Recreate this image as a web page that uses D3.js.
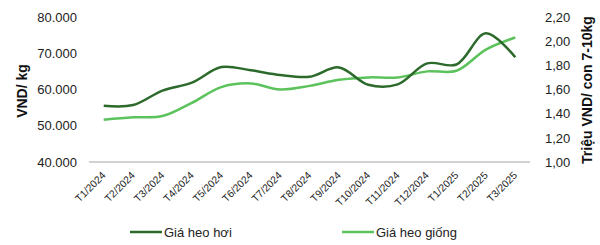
<!DOCTYPE html>
<html><head><meta charset="utf-8">
<script src="https://cdn.jsdelivr.net/npm/d3@7"></script>
<style>body{margin:0;background:#fff}svg{display:block;font-family:"Liberation Sans",Arial,sans-serif}</style>
</head><body><svg id="c" width="600" height="245"></svg>
<script>
const categories = ["T1/2024","T2/2024","T3/2024","T4/2024","T5/2024","T6/2024","T7/2024","T8/2024","T9/2024","T10/2024","T11/2024","T12/2024","T1/2025","T2/2025","T3/2025"];
const heoHoi = [55500, 55700, 59700, 61900, 66200, 65300, 64000, 63500, 66100, 61300, 61400, 67200, 66900, 75500, 68900];
const heoGiong = [1.35, 1.37, 1.38, 1.49, 1.62, 1.65, 1.60, 1.63, 1.68, 1.70, 1.70, 1.75, 1.755, 1.93, 2.03];
const leftTicks = [40000, 50000, 60000, 70000, 80000];
const rightTicks = [1.0, 1.2, 1.4, 1.6, 1.8, 2.0, 2.2];
const seriesNames = ["Giá heo hơi", "Giá heo giống"];
const colors = ["#2c6a2c", "#5cc35c"];

const svg = d3.select("#c");
const x = d3.scaleBand().domain(categories).range([89, 530]);
const yL = d3.scaleLinear().domain([40000, 80000]).range([162, 17]);
const yR = d3.scaleLinear().domain([1.0, 2.2]).range([162, 17]);
const fmtL = d => d3.format(",")(d).replace(/,/g, ".");
const fmtR = d => d.toFixed(2).replace(".", ",");

// left axis labels
const gl = svg.append("g").attr("transform","translate(77,0)")
  .call(d3.axisLeft(yL).tickValues(leftTicks).tickFormat(fmtL).tickSize(0).tickPadding(0));
gl.select(".domain").remove();
gl.selectAll("text").attr("font-size",13).attr("fill","#222").attr("font-family","Liberation Sans, Arial, sans-serif");

const gr = svg.append("g").attr("transform","translate(545,0)")
  .call(d3.axisRight(yR).tickValues(rightTicks).tickFormat(fmtR).tickSize(0).tickPadding(0));
gr.select(".domain").remove();
gr.selectAll("text").attr("font-size",13).attr("fill","#222").attr("font-family","Liberation Sans, Arial, sans-serif");

// x axis line
svg.append("line").attr("x1",89).attr("x2",530).attr("y1",162).attr("y2",162)
  .attr("stroke","#a6a6a6").attr("stroke-width",1);

// x labels
svg.append("g").selectAll("text").data(categories).join("text")
  .attr("transform", d => `translate(${x(d)+x.bandwidth()/2},${173.5}) rotate(-45)`)
  .attr("text-anchor","end").attr("dy","0.35em")
  .attr("font-size",10.3).attr("fill","#222").text(d => d);

// axis titles
svg.append("text").attr("transform","translate(27,91) rotate(-90)")
  .attr("text-anchor","middle").attr("font-size",14).attr("font-weight","bold").attr("fill","#111").text("VND/ kg");
svg.append("text").attr("transform","translate(592,90) rotate(-90)")
  .attr("text-anchor","middle").attr("font-size",14).attr("font-weight","bold").attr("fill","#111").text("Triệu VND/ con 7-10kg");

const cx = d => x(d) + x.bandwidth()/2;
const lineL = d3.line().x((d,i)=>cx(categories[i])).y(d=>yL(d)).curve(d3.curveCatmullRom.alpha(0.5));
const lineR = d3.line().x((d,i)=>cx(categories[i])).y(d=>yR(d)).curve(d3.curveCatmullRom.alpha(0.5));

svg.append("path").attr("d", lineR(heoGiong)).attr("fill","none").attr("stroke",colors[1]).attr("stroke-width",2.5);
svg.append("path").attr("d", lineL(heoHoi)).attr("fill","none").attr("stroke",colors[0]).attr("stroke-width",2.5);

// legend
const legX = [130, 342];
seriesNames.forEach((n,i)=>{
  svg.append("line").attr("x1",legX[i]).attr("x2",legX[i]+32).attr("y1",232).attr("y2",232)
    .attr("stroke",colors[i]).attr("stroke-width",2.5);
  svg.append("text").attr("x",legX[i]+34).attr("y",232).attr("dy","0.35em")
    .attr("font-size",13).attr("fill","#222").text(n);
});
</script></body></html>
